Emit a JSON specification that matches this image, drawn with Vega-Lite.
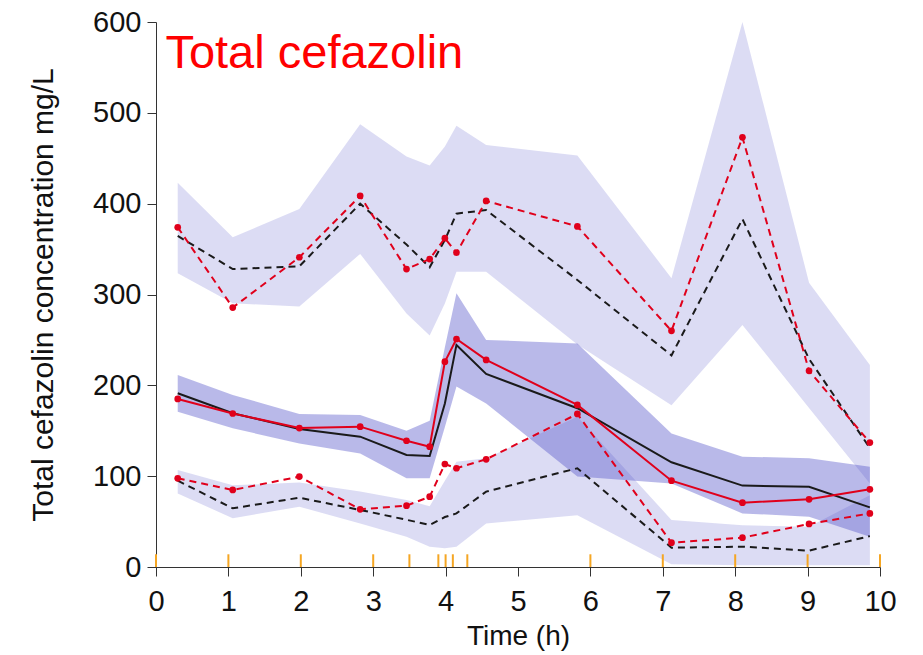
{
  "$schema": "https://vega.github.io/schema/vega-lite/v6.json",
  "width": 724,
  "height": 545,
  "autosize": {"type": "none"},
  "padding": {"left": 156, "top": 22, "right": 43, "bottom": 88},
  "background": "white",
  "config": {
    "view": {"stroke": null},
    "font": "Liberation Sans",
    "axis": {"grid": false, "domainColor": "#333333", "tickColor": "#333333", "labelColor": "#111111", "titleColor": "#111111", "labelFont": "Liberation Sans", "titleFont": "Liberation Sans", "titleFontWeight": "normal"}
  },
  "datasets": {
    "bins": [
      {"t": 0.30, "up_lo": 323.5, "up_hi": 423, "md_lo": 171, "md_hi": 211.5, "lo_lo": 81, "lo_hi": 106.8, "obs_hi": 374, "obs_md": 185, "obs_lo": 97.6, "sim_hi": 364.5, "sim_md": 191.3, "sim_lo": 95},
      {"t": 1.06, "up_lo": 290.4, "up_hi": 363, "md_lo": 152.7, "md_hi": 189.4, "lo_lo": 53.6, "lo_hi": 90, "obs_hi": 285.6, "obs_md": 169, "obs_lo": 84.8, "sim_hi": 328, "sim_md": 169.3, "sim_lo": 64.6},
      {"t": 1.98, "up_lo": 286.7, "up_hi": 394, "md_lo": 136, "md_hi": 168.5, "lo_lo": 66.4, "lo_hi": 92.9, "obs_hi": 341, "obs_md": 153, "obs_lo": 99.5, "sim_hi": 331, "sim_md": 152, "sim_lo": 76.3},
      {"t": 2.82, "up_lo": 344.7, "up_hi": 487.5, "md_lo": 125, "md_hi": 167.4, "lo_lo": 48, "lo_hi": 83, "obs_hi": 408.6, "obs_md": 154.5, "obs_lo": 63.5, "sim_hi": 400, "sim_md": 143.5, "sim_lo": 62.8},
      {"t": 3.46, "up_lo": 279, "up_hi": 452, "md_lo": 97.6, "md_hi": 150, "lo_lo": 33.4, "lo_hi": 73.8, "obs_hi": 328, "obs_md": 139, "obs_lo": 67.5, "sim_hi": 355, "sim_md": 123.3, "sim_lo": 52},
      {"t": 3.78, "up_lo": 255, "up_hi": 442, "md_lo": 97.6, "md_hi": 161, "lo_lo": 22.4, "lo_hi": 67, "obs_hi": 339, "obs_md": 132.5, "obs_lo": 77.4, "sim_hi": 330, "sim_md": 122.2, "sim_lo": 46.3},
      {"t": 3.99, "up_lo": 290, "up_hi": 463, "md_lo": 154, "md_hi": 242, "lo_lo": 20.6, "lo_hi": 95, "obs_hi": 362, "obs_md": 226, "obs_lo": 113.4, "sim_hi": 360, "sim_md": 180, "sim_lo": 55},
      {"t": 4.15, "up_lo": 325, "up_hi": 485.7, "md_lo": 198.6, "md_hi": 301.4, "lo_lo": 22.4, "lo_hi": 116, "obs_hi": 346, "obs_md": 251, "obs_lo": 108.7, "sim_hi": 389, "sim_md": 244.5, "sim_lo": 59},
      {"t": 4.56, "up_lo": 325, "up_hi": 464.7, "md_lo": 180, "md_hi": 250, "lo_lo": 48, "lo_hi": 119.7, "obs_hi": 403, "obs_md": 228, "obs_lo": 118.6, "sim_hi": 393, "sim_md": 212.5, "sim_lo": 83},
      {"t": 5.82, "up_lo": 245, "up_hi": 453, "md_lo": 99.5, "md_hi": 246, "lo_lo": 57, "lo_hi": 165.5, "obs_hi": 375, "obs_md": 178.4, "obs_lo": 168.5, "sim_hi": 316, "sim_md": 174.8, "sim_lo": 108.7},
      {"t": 7.12, "up_lo": 178, "up_hi": 318, "md_lo": 92, "md_hi": 147, "lo_lo": 3, "lo_hi": 51.8, "obs_hi": 260, "obs_md": 95, "obs_lo": 26.8, "sim_hi": 233, "sim_md": 115.3, "sim_lo": 21.3},
      {"t": 8.10, "up_lo": 266.5, "up_hi": 600, "md_lo": 59, "md_hi": 121.5, "lo_lo": 2, "lo_hi": 46, "obs_hi": 473, "obs_md": 70.8, "obs_lo": 32.3, "sim_hi": 383, "sim_md": 89.6, "sim_lo": 22.4},
      {"t": 9.02, "up_lo": 175, "up_hi": 313, "md_lo": 55.4, "md_hi": 119.7, "lo_lo": 2, "lo_hi": 44.4, "obs_hi": 216, "obs_md": 74.5, "obs_lo": 47.4, "sim_hi": 229, "sim_md": 88.4, "sim_lo": 18},
      {"t": 9.86, "up_lo": 92, "up_hi": 222.5, "md_lo": 33.4, "md_hi": 110.5, "lo_lo": 2, "lo_hi": 79, "obs_hi": 137, "obs_md": 85.5, "obs_lo": 59, "sim_hi": 131, "sim_md": 65.7, "sim_lo": 34}
    ],
    "rug": [
      {"t": 0}, {"t": 1}, {"t": 2}, {"t": 3}, {"t": 3.5}, {"t": 3.9}, {"t": 4.0}, {"t": 4.1}, {"t": 4.3}, {"t": 6}, {"t": 7}, {"t": 8}, {"t": 9}, {"t": 10}
    ],
    "label": [
      {"label": "Total cefazolin", "lx": 0.13, "ly": 549}
    ]
  },
  "layer": [
    {"data": {"name": "bins"},
     "mark": {"type": "area", "color": "#5050c8", "opacity": 0.2},
     "encoding": {
       "x": {"field": "t", "type": "quantitative", "scale": {"domain": [0, 10], "nice": false, "zero": false},
         "axis": {"values": [0,1,2,3,4,5,6,7,8,9,10], "format": "d", "title": "Time (h)", "labelFontSize": 29, "titleFontSize": 28, "tickSize": 9, "labelPadding": 11, "titlePadding": 6, "labelFlush": false}},
       "y": {"field": "up_lo", "type": "quantitative", "scale": {"domain": [0, 600], "nice": false},
        "axis": {"values": [0,100,200,300,400,500,600], "format": "d", "title": "Total cefazolin concentration mg/L", "labelFontSize": 29, "titleFontSize": 30, "tickSize": 9, "labelPadding": 6, "titlePadding": 34}},
       "y2": {"field": "up_hi"}}},
    {"data": {"name": "bins"},
     "mark": {"type": "area", "color": "#5050c8", "opacity": 0.2},
     "encoding": {"x": {"field": "t", "type": "quantitative"}, "y": {"field": "lo_lo", "type": "quantitative"}, "y2": {"field": "lo_hi"}}},
    {"data": {"name": "bins"},
     "mark": {"type": "area", "color": "#5050c8", "opacity": 0.4},
     "encoding": {"x": {"field": "t", "type": "quantitative"}, "y": {"field": "md_lo", "type": "quantitative"}, "y2": {"field": "md_hi"}}},
    {"data": {"name": "bins"},
     "mark": {"type": "line", "color": "#1a1a1a", "strokeWidth": 2, "strokeDash": [7, 5]},
     "encoding": {"x": {"field": "t", "type": "quantitative"}, "y": {"field": "sim_hi", "type": "quantitative"}}},
    {"data": {"name": "bins"},
     "mark": {"type": "line", "color": "#1a1a1a", "strokeWidth": 2, "strokeDash": [7, 5]},
     "encoding": {"x": {"field": "t", "type": "quantitative"}, "y": {"field": "sim_lo", "type": "quantitative"}}},
    {"data": {"name": "bins"},
     "mark": {"type": "line", "color": "#1a1a1a", "strokeWidth": 2},
     "encoding": {"x": {"field": "t", "type": "quantitative"}, "y": {"field": "sim_md", "type": "quantitative"}}},
    {"data": {"name": "bins"},
     "mark": {"type": "line", "color": "#e0001b", "strokeWidth": 2, "strokeDash": [7, 5]},
     "encoding": {"x": {"field": "t", "type": "quantitative"}, "y": {"field": "obs_hi", "type": "quantitative"}}},
    {"data": {"name": "bins"},
     "mark": {"type": "line", "color": "#e0001b", "strokeWidth": 2, "strokeDash": [7, 5]},
     "encoding": {"x": {"field": "t", "type": "quantitative"}, "y": {"field": "obs_lo", "type": "quantitative"}}},
    {"data": {"name": "bins"},
     "mark": {"type": "line", "color": "#e0001b", "strokeWidth": 2},
     "encoding": {"x": {"field": "t", "type": "quantitative"}, "y": {"field": "obs_md", "type": "quantitative"}}},
    {"data": {"name": "bins"},
     "mark": {"type": "point", "filled": true, "color": "#e0001b", "opacity": 1, "size": 45},
     "encoding": {"x": {"field": "t", "type": "quantitative"}, "y": {"field": "obs_hi", "type": "quantitative"}}},
    {"data": {"name": "bins"},
     "mark": {"type": "point", "filled": true, "color": "#e0001b", "opacity": 1, "size": 45},
     "encoding": {"x": {"field": "t", "type": "quantitative"}, "y": {"field": "obs_lo", "type": "quantitative"}}},
    {"data": {"name": "bins"},
     "mark": {"type": "point", "filled": true, "color": "#e0001b", "opacity": 1, "size": 45},
     "encoding": {"x": {"field": "t", "type": "quantitative"}, "y": {"field": "obs_md", "type": "quantitative"}}},
    {"data": {"name": "rug"},
     "mark": {"type": "rule", "color": "#f5a623", "strokeWidth": 2},
     "encoding": {"x": {"field": "t", "type": "quantitative"}, "y": {"datum": 0}, "y2": {"datum": 14}}},
    {"data": {"name": "label"},
     "mark": {"type": "text", "color": "#ff0000", "fontSize": 47, "align": "left", "baseline": "alphabetic", "font": "Liberation Sans"},
     "encoding": {"text": {"field": "label", "type": "nominal"}, "x": {"field": "lx", "type": "quantitative"}, "y": {"field": "ly", "type": "quantitative"}}}
  ]
}
